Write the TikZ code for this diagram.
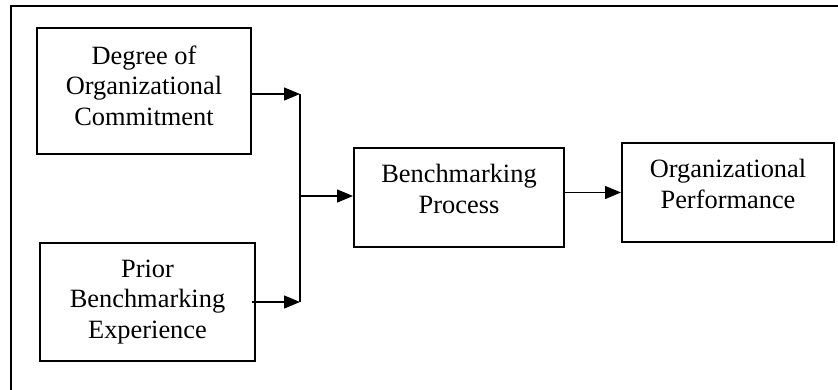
\documentclass[tikz,border=0pt]{standalone}
\usepackage{fontspec}
\setmainfont{Liberation Serif}
\usetikzlibrary{arrows.meta}

\begin{document}
\begin{tikzpicture}[%
	x=1pt, y=-1pt,
	box/.style = {draw, line width=2pt, align=center, inner sep=0pt,
	  font=\fontsize{26.4}{30.5}\selectfont},
	link/.style = {line width=1.4pt, -{Triangle[length=16pt,width=13pt]}},
	]
  \useasboundingbox (0,0) rectangle (838,389);
  \draw [line width=1.4pt] (11,6) rectangle (850,400);
  \node [box, minimum width=214pt, minimum height=126pt, text depth=11pt] (c1) at (144,91)
    {Degree of\\Organizational\\Commitment};
  \node [box, minimum width=215pt, minimum height=118pt] (c2) at (147.5,302)
    {Prior\\Benchmarking\\Experience};
  \node [box, minimum width=210pt, minimum height=99pt, text depth=17pt] (c3) at (459,197.5)
    {Benchmarking\\Process};
  \node [box, minimum width=212pt, minimum height=99pt, text depth=17pt] (c4) at (728,192.5)
    {Organizational\\Performance};
  \coordinate (t1) at (300,94);
  \coordinate (t2) at (300,302);
  \coordinate (j) at (300,196);
  \draw [link] (c1.east |- t1) -- (t1);
  \draw [link] ([xshift=-4pt]c2.east |- t2) -- (t2);
  \draw [line width=1.4pt] (t1) -- (t2);
  \draw [link] (j) -- (c3.west |- j);
  \draw [link] (c3.east |- c4) -- (c4.west);
\end{tikzpicture}
\end{document}
